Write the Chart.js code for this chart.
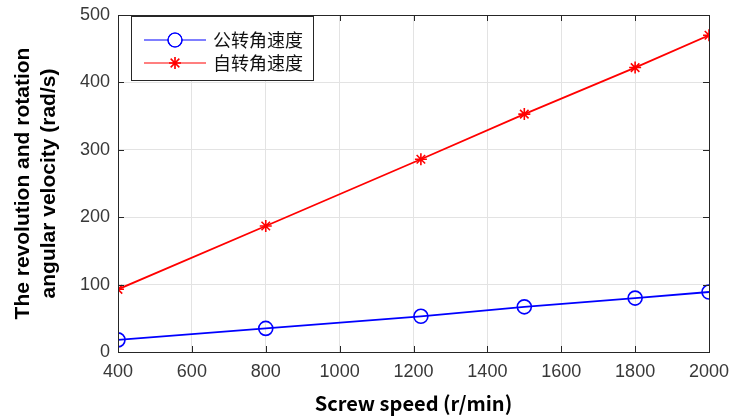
<!DOCTYPE html>
<html><head><meta charset="utf-8">
<script src="https://cdn.jsdelivr.net/npm/chart.js@4/dist/chart.umd.min.js"></script>
<style>html,body{margin:0;padding:0;background:#fff}#wrap{width:733px;height:418px}</style>
</head><body><div id="wrap"><canvas id="c" width="733" height="418"></canvas></div>
<script>
const screwSpeed = [400, 800, 1220, 1500, 1800, 2000];
const revolution = [18, 35, 53, 67, 80, 89];
const rotation = [93, 187, 286, 353, 422, 470];
const seriesNames = ['公转角速度', '自转角速度'];
const xTicks = [400, 600, 800, 1000, 1200, 1400, 1600, 1800, 2000];
const yTicks = [0, 100, 200, 300, 400, 500];
const xTitle = 'Screw speed (r/min)';
const yTitle = ['The revolution and rotation', 'angular velocity (rad/s)'];

const boxPlugin = {
  id: 'box',
  afterDraw(chart) {
    const {ctx, chartArea: a, scales} = chart;
    ctx.save();
    ctx.strokeStyle = '#262626';
    ctx.lineWidth = 1;
    ctx.strokeRect(a.left + 0.5, a.top + 0.5, a.right - a.left, a.bottom - a.top);
    const L = 6;
    ctx.beginPath();
    xTicks.forEach(v => {
      const x = Math.round(scales.x.getPixelForValue(v)) + 0.5;
      ctx.moveTo(x, a.bottom); ctx.lineTo(x, a.bottom - L);
      ctx.moveTo(x, a.top); ctx.lineTo(x, a.top + L);
    });
    yTicks.forEach(v => {
      const y = Math.round(scales.y.getPixelForValue(v)) + 0.5;
      ctx.moveTo(a.left, y); ctx.lineTo(a.left + L, y);
      ctx.moveTo(a.right, y); ctx.lineTo(a.right - L, y);
    });
    ctx.stroke();
    // legend
    const lx = a.left + 13, ly = a.top + 1, lw = 182, lh = 64;
    ctx.fillStyle = '#fff';
    ctx.fillRect(lx, ly, lw, lh);
    ctx.strokeStyle = '#262626';
    ctx.strokeRect(lx + 0.5, ly + 0.5, lw, lh);
    const rows = [ly + 24, ly + 47];
    chart.data.datasets.forEach((ds, i) => {
      const y = rows[i];
      ctx.strokeStyle = ds.borderColor;
      ctx.lineWidth = 1.2;
      ctx.beginPath(); ctx.moveTo(lx + 13, y); ctx.lineTo(lx + 75, y); ctx.stroke();
      Chart.helpers.drawPoint(ctx, {pointStyle: ds.pointStyle, radius: ds.pointRadius, borderWidth: 1.2}, lx + 44, y);
      ctx.stroke();
      ctx.fillStyle = '#111';
      ctx.font = '18px "Noto Sans CJK SC"';
      ctx.textBaseline = 'middle';
      ctx.fillText(ds.label, lx + 82, y);
    });
    ctx.restore();
  }
};

new Chart(document.getElementById('c'), {
  type: 'line',
  data: {
    datasets: [
      {label: seriesNames[0], data: screwSpeed.map((x, i) => ({x, y: revolution[i]})),
       borderColor: '#0000ff', backgroundColor: 'rgba(0,0,0,0)', borderWidth: 1.8,
       pointStyle: 'circle', pointRadius: 7, pointBorderWidth: 1.6, pointBorderColor: '#0000ff', pointBackgroundColor: 'rgba(0,0,0,0)'},
      {label: seriesNames[1], data: screwSpeed.map((x, i) => ({x, y: rotation[i]})),
       borderColor: '#ff0000', backgroundColor: 'rgba(0,0,0,0)', borderWidth: 1.8,
       pointStyle: 'star', pointRadius: 6, pointBorderWidth: 1.6, pointBorderColor: '#ff0000', pointBackgroundColor: '#ff0000'}
    ]
  },
  options: {
    responsive: false, animation: false,
    layout: {padding: {left: 11, right: 24, top: 15, bottom: 3}},
    plugins: {legend: {display: false}, tooltip: {enabled: false}},
    scales: {
      x: {
        type: 'linear', min: 400, max: 2000,
        afterBuildTicks: s => { s.ticks = xTicks.map(v => ({value: v})); },
        afterFit: s => { s.height = 63; s.paddingLeft = 0; s.paddingRight = 0; },
        grid: {color: '#e3e3e3', tickLength: 0, drawTicks: false},
        border: {display: false},
        ticks: {color: '#383838', font: {family: '"Liberation Sans", Arial', size: 18}, padding: 9, maxRotation: 0, callback: v => String(v)},
        title: {display: true, text: xTitle, color: '#000', font: {family: '"Noto Sans CJK SC"', size: 20, weight: 'bold'}, padding: {top: 0, bottom: 0}}
      },
      y: {
        type: 'linear', min: 0, max: 500,
        afterBuildTicks: s => { s.ticks = yTicks.map(v => ({value: v})); },
        afterFit: s => { s.width = 107; s.paddingTop = 0; s.paddingBottom = 0; },
        grid: {color: '#e3e3e3', drawTicks: false},
        border: {display: false},
        ticks: {color: '#383838', font: {family: '"Liberation Sans", Arial', size: 18}, padding: 8, callback: v => String(v)},
        title: {display: true, text: yTitle, color: '#000', font: {family: '"Liberation Sans", Arial', size: 21, weight: 'bold', lineHeight: 1.2}, padding: {top: 0, bottom: 0}}
      }
    }
  },
  plugins: [boxPlugin]
});
</script></body></html>
